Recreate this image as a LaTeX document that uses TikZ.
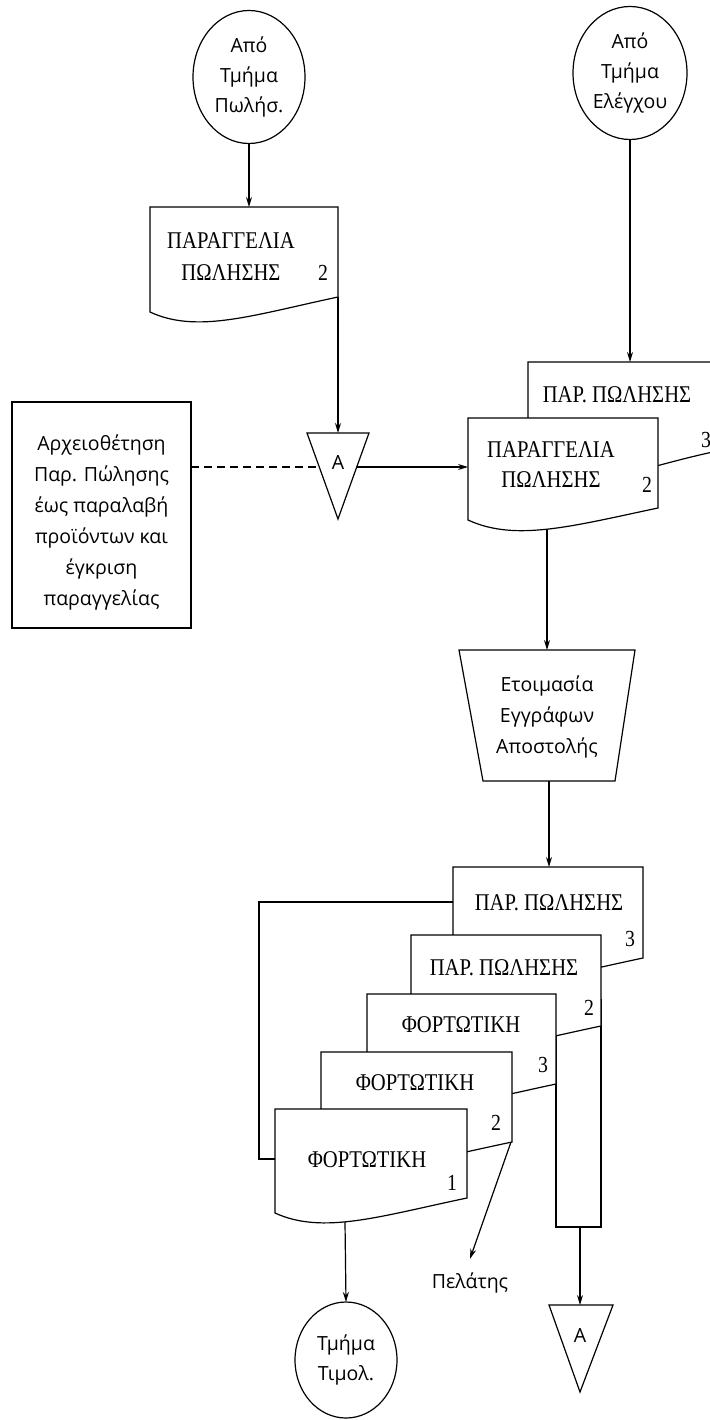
\documentclass[tikz,border=0pt]{standalone}
\usepackage{fontspec}
\setmainfont{Liberation Serif}
\newfontfamily\grsans{Open Sans}
\newfontfamily\docfont[FakeStretch=0.86]{Liberation Serif}
\usetikzlibrary{shapes.geometric,arrows.meta}
% document symbol: L, T, R, bottom-left y, bottom-right y
\newcommand\mydoc[5]{\path[docbox] (#1,#2) -- (#3,#2) -- (#3,#5) .. controls ({#1+0.55*(#3-#1)},{#5+18}) and ({#1+0.25*(#3-#1)},{#4+22}) .. (#1,#4) -- cycle;}
\begin{document}
\begin{tikzpicture}[x=1pt,y=-1pt,line width=1.2pt,
  every node/.style={inner sep=0pt,outer sep=0pt},
  conn/.style={-{Stealth[length=10pt,width=6pt]}},
  term/.style={ellipse,draw,align=center,font=\grsans\fontsize{19.5}{30}\selectfont},
  doctext/.style={align=center,font=\docfont\fontsize{24}{32}\selectfont},
  numtext/.style={font=\docfont\fontsize{23}{24}\selectfont},
  sanstext/.style={align=center,font=\grsans\fontsize{19.5}{31}\selectfont},
  docbox/.style={draw,fill=white,line join=miter},
  mergebox/.style={draw,fill=white,line join=miter}
]
\useasboundingbox (0,0) rectangle (709,1420);

% ---------- terminals ----------
\node[term,minimum width=112pt,minimum height=133pt] (src1) at (249,77) {Από\\Τμήμα\\Πωλήσ.};
\node[term,minimum width=114pt,minimum height=133pt] (src2) at (630,73) {Από\\Τμήμα\\Ελέγχου};
\node[term,minimum width=102pt,minimum height=116pt] (inv) at (346,1360) {Τμήμα\\Τιμολ.};

% ---------- document 1 ----------
\mydoc{150}{207}{338}{312}{297}
\node[doctext] (d1) at (231,257) {ΠΑΡΑΓΓΕΛΙΑ\\ΠΩΛΗΣΗΣ};
\node[numtext] (d1n) at (323,273) {2};
\coordinate (d1top) at (249,207);
\coordinate (d1out) at (338,297);

% ---------- merge triangle A (top) ----------
\path[mergebox] (307,433) -- (369,433) -- (338,519) -- cycle;
\node[sanstext] (mA1) at (338,463) {A};
\coordinate (mA1top) at (338,433);
\coordinate (mA1l) at (319,467);
\coordinate (mA1r) at (357,467);

% ---------- file note ----------
\node[draw,minimum width=179pt,minimum height=226pt] (note) at (101.5,515) {};
\node[sanstext] (notetext) at (101.5,522) {Αρχειοθέτηση\\Παρ. Πώλησης\\έως παραλαβή\\προϊόντων και\\έγκριση\\παραγγελίας};

% ---------- documents top right ----------
\mydoc{528}{362}{722}{475}{450}
\node[doctext] (d3b) at (617,395) {ΠΑΡ. ΠΩΛΗΣΗΣ};
\node[numtext] (d3bn) at (706,440) {3};
\coordinate (d3btop) at (630,362);
\mydoc{468}{418}{658}{520}{508}
\node[doctext,font=\docfont\fontsize{24}{30}\selectfont] (d2) at (551,465) {ΠΑΡΑΓΓΕΛΙΑ\\ΠΩΛΗΣΗΣ};
\node[numtext] (d2n) at (647,485) {2};
\coordinate (d2in) at (468,467);
\coordinate (d2out) at (547,529);

% ---------- manual operation ----------
\draw[line join=miter] (459,650) -- (635,650) -- (615,781) -- (483,781) -- cycle;
\node[sanstext] (prep) at (547,717) {Ετοιμασία\\Εγγράφων\\Αποστολής};
\coordinate (preptop) at (547,650);
\coordinate (prepbot) at (549,781);

% ---------- stacked documents ----------
\mydoc{453}{867}{643}{972}{958}
\node[doctext] (sA) at (549,903) {ΠΑΡ. ΠΩΛΗΣΗΣ};
\node[numtext] (sAn) at (630,939) {3};
\coordinate (sAtop) at (549,867);
\coordinate (sAleft) at (453,902);

\draw[fill=white] (556,1000) rectangle (601,1227);
\coordinate (binbot) at (580,1227);

\mydoc{411}{935}{601}{1040}{1026}
\node[doctext] (sB) at (504,968) {ΠΑΡ. ΠΩΛΗΣΗΣ};
\node[numtext] (sBn) at (589,1008) {2};

\mydoc{367}{994}{556}{1098}{1084}
\node[doctext] (sC) at (461,1025) {ΦΟΡΤΩΤΙΚΗ};
\node[numtext] (sCn) at (543,1065) {3};

\mydoc{321}{1052}{512}{1156}{1142}
\node[doctext] (sD) at (415,1083) {ΦΟΡΤΩΤΙΚΗ};
\node[numtext] (sDn) at (496,1123) {2};
\coordinate (sDout) at (511,1142);

\mydoc{275}{1109}{467}{1213}{1198}
\node[doctext] (sE) at (367,1160) {ΦΟΡΤΩΤΙΚΗ};
\node[numtext] (sEn) at (452,1183) {1};
\coordinate (sEleft) at (275,1159);
\coordinate (sEout) at (345,1222);

% ---------- bottom merge A ----------
\path[mergebox] (549,1305) -- (613,1305) -- (580,1392) -- cycle;
\node[sanstext] (mA2) at (580,1335) {A};
\coordinate (mA2top) at (580,1305);

\node[sanstext] (cust) at (470,1283) {Πελάτης};

% ---------- connectors ----------
\draw[conn] (src1.south) -- (d1top);
\draw[conn] (d1out) -- (mA1top);
\draw[dash pattern=on 8pt off 5pt] (note.east |- mA1l) -- (mA1l);
\draw[conn] (mA1r) -- (d2in);
\draw[conn] (src2.south) -- (d3btop);
\draw[conn] (d2out) -- (preptop);
\draw[conn] (prepbot) -- (sAtop);
\draw (sAleft) -- ++(-194,0) |- (sEleft);
\draw[conn] (sDout) -- ([yshift=14pt]cust.north);
\draw[conn] (sEout) -- (inv.north);
\draw[conn] (binbot) -- (mA2top);
\end{tikzpicture}
\end{document}
